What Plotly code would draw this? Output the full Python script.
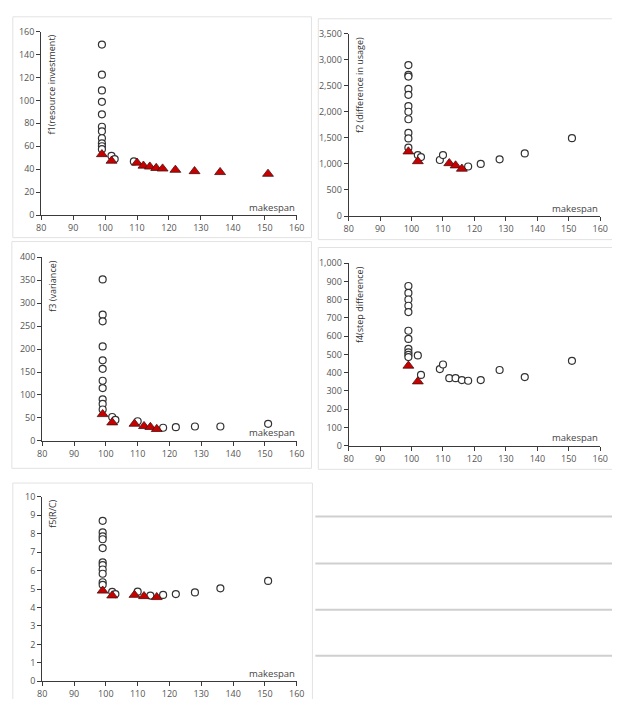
import plotly.graph_objects as go

W, H = 620, 705

# ---------------- data ----------------
X_TICKS = [80, 90, 100, 110, 120, 130, 140, 150, 160]

# Panel 1: f1 (resource investment)
F1_OPEN_X = [99, 99, 99, 99, 99, 99, 99, 99, 99, 99, 99, 102, 103, 109]
F1_OPEN_Y = [148.6, 122.4, 108.7, 98.7, 87.8, 77.0, 73.0, 67.0, 62.5, 60.0, 57.5, 51.6, 48.8, 46.8]
F1_TRI_X = [99, 102, 110, 112, 114, 116, 118, 122, 128, 136, 151]
F1_TRI_Y = [53.0, 47.3, 45.6, 43.0, 42.2, 41.0, 40.5, 39.4, 38.2, 37.4, 35.9]

# Panel 2: f2 (difference in usage)
F2_OPEN_X = [99, 99, 99, 99, 99, 99, 99, 99, 99, 99, 99, 102, 103, 109, 110, 118, 122, 128, 136, 151]
F2_OPEN_Y = [2894, 2706, 2675, 2437, 2325, 2106, 2000, 1856, 1594, 1488, 1312,
             1169, 1131, 1075, 1169, 950, 1000, 1087, 1200, 1494]
F2_TRI_X = [99, 102, 112, 114, 116]
F2_TRI_Y = [1237, 1050, 1012, 969, 906]

# Panel 3: f3 (variance)
F3_OPEN_X = [99, 99, 99, 99, 99, 99, 99, 99, 99, 99, 99, 102, 103, 110, 118, 122, 128, 136, 151]
F3_OPEN_Y = [351.7, 275.0, 260.5, 205.8, 175.5, 157.0, 131.0, 115.0, 90.5, 80.5, 68.3,
             52.0, 45.6, 42.7, 28.5, 29.9, 31.3, 31.3, 37.0]
F3_TRI_X = [99, 102, 109, 112, 114, 116]
F3_TRI_Y = [58.0, 40.0, 37.0, 32.0, 30.0, 25.6]

# Panel 4: f4 (step difference)
F4_OPEN_X = [99, 99, 99, 99, 99, 99, 99, 99, 99, 99, 99, 102, 103, 109, 110, 112, 114,
             116, 118, 122, 128, 136, 151]
F4_OPEN_Y = [875, 837, 801, 767, 732, 630, 585, 531, 512, 498, 486, 495, 388, 420, 445,
             370, 370, 360, 356, 360, 415, 376, 465]
F4_TRI_X = [99, 102]
F4_TRI_Y = [438, 352]

# Panel 5: f5 (R/C)
F5_OPEN_X = [99, 99, 99, 99, 99, 99, 99, 99, 99, 99, 99, 102, 103, 110, 114, 118, 122, 128, 136, 151]
F5_OPEN_Y = [8.70, 8.07, 7.85, 7.70, 7.22, 6.45, 6.30, 6.06, 5.83, 5.37, 5.23,
             4.85, 4.73, 4.86, 4.65, 4.68, 4.73, 4.82, 5.04, 5.44]
F5_TRI_X = [99, 102, 109, 112, 116]
F5_TRI_Y = [4.91, 4.65, 4.68, 4.61, 4.56]

Y_TITLES = ["f1(resource investment)", "f2 (difference in usage)", "f3 (variance)",
            "f4(step difference)", "f5(R/C)"]
Y_MAX = [160, 3500, 400, 1000, 10]
Y_STEP = [20, 500, 50, 100, 1]
X_TITLE = "makespan"

panels_data = [
    (F1_OPEN_X, F1_OPEN_Y, F1_TRI_X, F1_TRI_Y),
    (F2_OPEN_X, F2_OPEN_Y, F2_TRI_X, F2_TRI_Y),
    (F3_OPEN_X, F3_OPEN_Y, F3_TRI_X, F3_TRI_Y),
    (F4_OPEN_X, F4_OPEN_Y, F4_TRI_X, F4_TRI_Y),
    (F5_OPEN_X, F5_OPEN_Y, F5_TRI_X, F5_TRI_Y),
]

# ---------------- layout (pixel geometry) ----------------
# plot areas: (left, right, top, bottom) in px
AREAS = [(37, 298, 25, 212), (351, 608, 27, 213), (38, 298, 255, 442),
         (351, 608, 261, 447), (38, 298, 499, 687)]
# panel frames as polylines in px (open where the frame leaves the picture)
FRAMES = [
    [(8, 10), (313, 10), (313, 235), (8, 235), (8, 10)],
    [(620, 12), (320, 12), (320, 237), (620, 237)],
    [(7, 239), (313, 239), (313, 470), (7, 470), (7, 239)],
    [(620, 245), (320, 245), (320, 471), (620, 471)],
    [(8, 705), (8, 485), (314, 485), (314, 705)],
]

def px(x):
    return x / W

def py(y):
    return 1 - y / H

FONT = "Open Sans, Noto Sans, sans-serif"
AXIS_COLOR = "#3a3a3a"
TICK_FONT = dict(family=FONT, size=9, color="#555555")

fig = go.Figure()
layout = dict(
    width=W, height=H, margin=dict(l=0, r=0, t=0, b=0),
    paper_bgcolor="white", plot_bgcolor="rgba(0,0,0,0)",
    showlegend=False, font=dict(family=FONT),
)
annotations = []
shapes = []

for i, (ox, oy, tx, ty) in enumerate(panels_data):
    n = "" if i == 0 else str(i + 1)
    xa, ya = "x" + n, "y" + n
    l, r, t, b = AREAS[i]
    fig.add_trace(go.Scatter(
        x=ox, y=oy, mode="markers", xaxis=xa, yaxis=ya,
        marker=dict(symbol="circle", size=7, color="white",
                    line=dict(color="#333333", width=1.2)),
        hoverinfo="x+y"))
    fig.add_trace(go.Scatter(
        x=tx, y=ty, mode="markers", xaxis=xa, yaxis=ya,
        marker=dict(symbol="triangle-up", size=9.5, color="#c80000",
                    line=dict(color="#4a1010", width=0.8)),
        hoverinfo="x+y"))
    common = dict(showline=True, linecolor=AXIS_COLOR, linewidth=1,
                  ticks="outside", ticklen=4, tickcolor=AXIS_COLOR, tickwidth=1,
                  showgrid=False, zeroline=False, tickfont=TICK_FONT, fixedrange=True)
    layout["xaxis" + n] = dict(domain=[px(l), px(r)], anchor=ya, range=[80, 160],
                               tickvals=X_TICKS, **common)
    layout["yaxis" + n] = dict(domain=[py(b), py(t)], anchor=xa, range=[0, Y_MAX[i]],
                               dtick=Y_STEP[i], tickformat=",", **common)
    # y-axis title (rotated, inside plot, near top)
    annotations.append(dict(
        text=Y_TITLES[i], xref="paper", yref="paper", x=px(l + 11), y=py(t + 1),
        xanchor="center", yanchor="top", textangle=-90, showarrow=False,
        font=dict(family=FONT, size=9, color="#333333")))
    # x-axis title at bottom right
    annotations.append(dict(
        text=X_TITLE, xref="paper", yref="paper", x=px(r), y=py(b - 8),
        xanchor="right", yanchor="middle", showarrow=False,
        font=dict(family=FONT, size=9.5, color="#444444")))
    path = "M " + " L ".join(f"{px(x):.5f},{py(y):.5f}" for x, y in FRAMES[i])
    shapes.append(dict(type="path", xref="paper", yref="paper", path=path,
                       line=dict(color="#e2e2e2", width=1), layer="below"))

# empty lower-right area: separator lines
for yy in [519, 567, 614, 661]:
    shapes.append(dict(type="line", xref="paper", yref="paper",
                       x0=px(317), x1=px(620), y0=py(yy), y1=py(yy),
                       line=dict(color="#cfcfcf", width=2)))

layout["annotations"] = annotations
layout["shapes"] = shapes
fig.update_layout(**layout)

fig.write_html(
    "out.html",
    config={"displayModeBar": False},
    post_script="document.body.style.margin='0';document.body.style.overflow='hidden';",
)
